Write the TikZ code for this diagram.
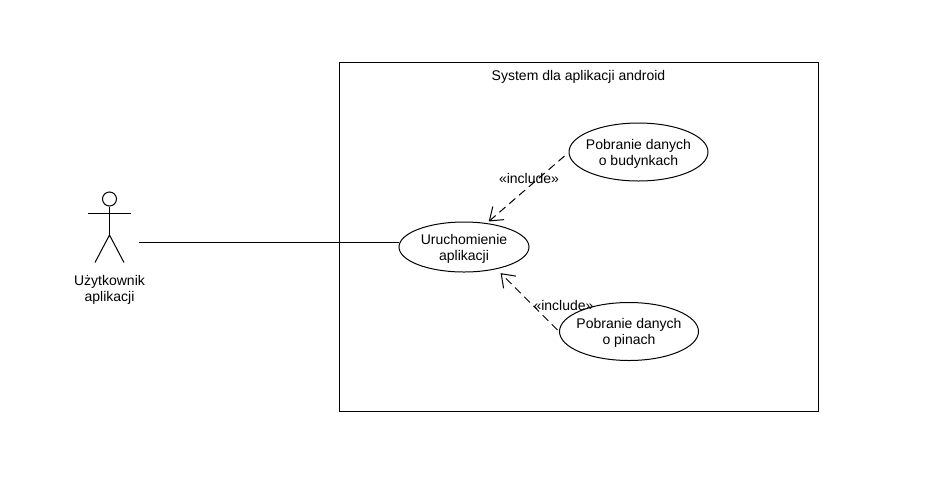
\documentclass[tikz,border=0pt]{standalone}
\usepackage{fontspec}
\setmainfont{Liberation Sans}
\usetikzlibrary{shapes.geometric,arrows.meta}
\tikzset{
  x=0.75pt,y=-0.75pt,
  every path/.style={line width=0.75pt},
  txt/.style={font=\fontsize{10.5pt}{12pt}\selectfont,align=center,inner sep=0pt},
  usecase/.style={draw,ellipse,inner sep=0pt},
  big/.style={usecase,minimum width=104.25pt,minimum height=43.5pt},
  small/.style={usecase,minimum width=97.5pt,minimum height=37.5pt},
  inc/.style={draw,dash pattern=on 6pt off 3.75pt,-{Straight Barb[length=9pt,width=13pt,line width=0.75pt]}}
}
\begin{document}
\begin{tikzpicture}
\useasboundingbox (0,0) rectangle (947,476);
\fill[white] (0,0) rectangle (947,476);
\node[draw,minimum width=359.25pt,minimum height=261.75pt,inner sep=0pt] (sys) at (579,236.75) {};
\node[txt] (title) at (578.5,76.5) {System dla aplikacji android};
% actor
\node[draw,circle,minimum size=10.5pt,inner sep=0pt] (head) at (109.5,199) {};
\coordinate (armL) at (88,213);
\coordinate (armR) at (131,213);
\coordinate (hip) at (109.5,235);
\coordinate (legL) at (95,262.5);
\coordinate (legR) at (124,262.5);
\draw (head.south) -- (hip);
\draw (armL) -- (armR);
\draw (legL) -- (hip) -- (legR);
\node[txt] (actor) at (109.5,289.5) {Użytkownik\\aplikacji};
\coordinate (port) at (139,242.5);
% use cases
\node[small] (u) at (464,247) {};
\node[big] (b) at (638.5,152) {};
\node[big] (p) at (629,331.5) {};
\node[txt] (ut) at (464,249) {Uruchomienie\\aplikacji};
\node[txt] (bt) at (638.5,153.5) {Pobranie danych\\o budynkach};
\node[txt] (pt) at (629,333) {Pobranie danych\\o pinach};
% connectors
\draw (port) -- (port -| u.west);
\draw[inc] ([shift={(-4,4)}]b.west) -- ([shift={(-0.5,-2)}]u.43);
\draw[inc] ([shift={(-1.5,-1.5)}]p.west) -- ([shift={(0,5)}]u.-30);
\node[txt] (l1) at (529,178.5) {«include»};
\node[txt] (l2) at (563.5,305.5) {«include»};
\end{tikzpicture}
\end{document}
